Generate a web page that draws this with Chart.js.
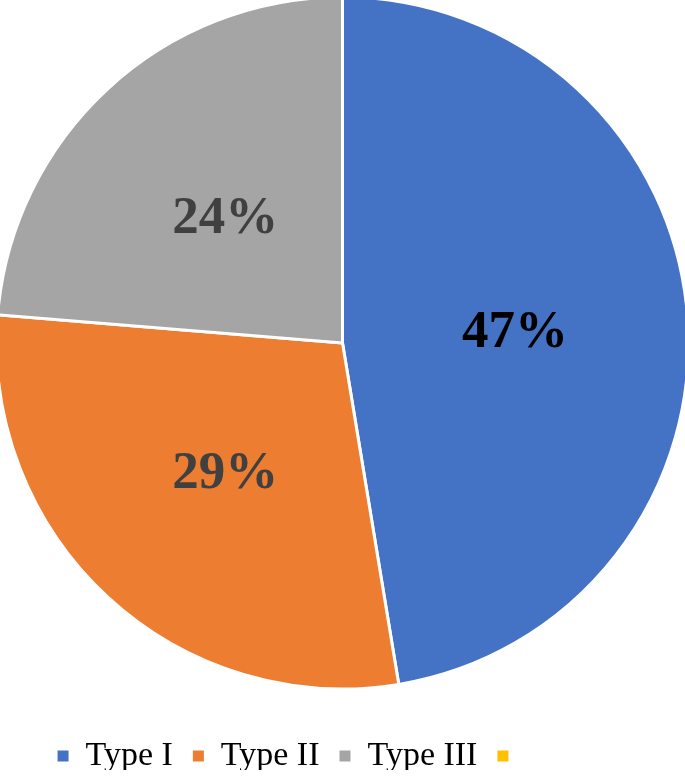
<!DOCTYPE html>
<html>
<head>
<meta charset="utf-8">
<script src="https://cdn.jsdelivr.net/npm/chart.js@4"></script>
<style>
    html, body { margin: 0; padding: 0; background: #fff; overflow: hidden; }
    #wrap { width: 685px; height: 778px; overflow: hidden; }
    /* canvas is a bit taller and pulled up so the pie touches the top edge */
    #pieChart { display: block; margin-top: -33px; }
</style>
</head>
<body>
<div id="wrap"><canvas id="pieChart" width="685" height="803"></canvas></div>
<script>
// Chart data
const categories = ['Type I', 'Type II', 'Type III', ''];
const shares = [47.4, 28.9, 23.7, 0];
const sliceColors = ['#4472C4', '#ED7D31', '#A5A5A5', '#FFC000'];
const labelColors = ['#000000', '#404040', '#404040', '#404040'];

// Draw percentage labels in the middle of each slice
const sliceLabels = {
    id: 'sliceLabels',
    afterDatasetsDraw(chart) {
        const ctx = chart.ctx;
        const meta = chart.getDatasetMeta(0);
        ctx.save();
        ctx.font = 'bold 53px "Liberation Serif", "Times New Roman", serif';
        ctx.textAlign = 'center';
        ctx.textBaseline = 'middle';
        meta.data.forEach((arc, i) => {
            if (!shares[i]) return;
            const pos = arc.tooltipPosition();
            ctx.fillStyle = labelColors[i];
            ctx.fillText(Math.round(shares[i]) + '%', pos.x, pos.y + 4);
        });
        ctx.restore();
    }
};

document.addEventListener('DOMContentLoaded', () => {
    const ctx = document.getElementById('pieChart').getContext('2d');
    new Chart(ctx, {
        type: 'pie',
        data: {
            labels: categories,
            datasets: [{
                data: shares,
                backgroundColor: sliceColors,
                borderColor: '#ffffff',
                borderWidth: 3,
                radius: 346,
                clip: false
            }]
        },
        options: {
            responsive: false,
            animation: false,
            layout: { padding: { top: 0, bottom: -13, left: 0, right: 0 } },
            plugins: {
                tooltip: { enabled: false },
                legend: {
                    position: 'bottom',
                    labels: {
                        boxWidth: 11,
                        boxHeight: 11,
                        padding: 20,
                        color: '#000000',
                        font: { family: '"Liberation Serif", "Times New Roman", serif', size: 34 },
                        generateLabels(chart) {
                            // the last (empty) entry keeps some blank room after its box, as in the original
                            return categories.map((name, i) => ({
                                text: name || '\u00a0'.repeat(12),
                                fillStyle: sliceColors[i],
                                strokeStyle: sliceColors[i],
                                lineWidth: 0,
                                hidden: false,
                                index: i
                            }));
                        }
                    }
                }
            }
        },
        plugins: [sliceLabels]
    });
});
</script>
</body>
</html>
